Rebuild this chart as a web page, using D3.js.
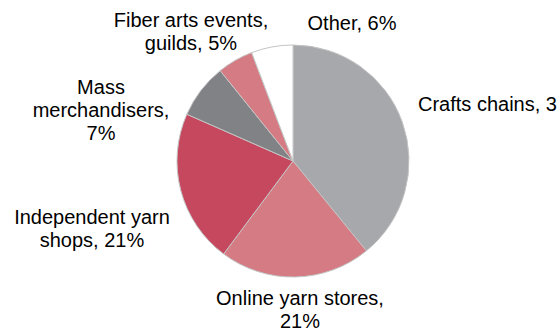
<!DOCTYPE html>
<html>
<head>
<meta charset="utf-8">
<script src="https://cdn.jsdelivr.net/npm/d3@7"></script>
<style>
body { margin: 0; background: #fff; }
text { font-family: "Liberation Sans", Arial, sans-serif; font-size: 20px; fill: #000; }
</style>
</head>
<body>
<script>
var width = 557;
var height = 331;

// data
var categories = ["Crafts chains", "Online yarn stores", "Independent yarn shops", "Mass merchandisers", "Fiber arts events, guilds", "Other"];
var shares = [39.1, 21.1, 21.4, 7.6, 5.0, 5.8];
var labelLines = [
    ["Crafts chains, 39%"],
    ["Online yarn stores,", "21%"],
    ["Independent yarn", "shops, 21%"],
    ["Mass", "merchandisers,", "7%"],
    ["Fiber arts events,", "guilds, 5%"],
    ["Other, 6%"]
];
var colors = ["#a7a8ac", "#d47b83", "#c6485f", "#808285", "#d47b83", "#ffffff"];

// layout
var cx = 293, cy = 161, radius = 116;
var labelPos = [[418, 111, "start"], [300, 305, "middle"], [92, 224, "middle"], [101, 94, "middle"], [191, 27, "middle"], [352, 30, "middle"]];
var lineHeight = 23;

var svg = d3.select("body").append("svg").attr("width", width + "px").attr("height", height + "px");

var pie = d3.pie().sort(null).value(function (d) { return d; });
var arc = d3.arc().innerRadius(0).outerRadius(radius);

var g = svg.append("g").attr("transform", "translate(" + cx + "," + cy + ")");

g.selectAll("path")
    .data(pie(shares))
    .enter().append("path")
    .attr("d", arc)
    .attr("fill", function (d, i) { return colors[i]; })
    .attr("stroke", "#c4c4c4")
    .attr("stroke-width", 1);

var labels = svg.append("g").selectAll("text")
    .data(categories)
    .enter().append("text")
    .attr("x", function (d, i) { return labelPos[i][0]; })
    .attr("y", function (d, i) { return labelPos[i][1]; })
    .attr("text-anchor", function (d, i) { return labelPos[i][2]; });

labels.each(function (d, i) {
    var t = d3.select(this);
    labelLines[i].forEach(function (line, j) {
        t.append("tspan")
            .attr("x", labelPos[i][0])
            .attr("dy", j === 0 ? 0 : lineHeight)
            .text(line);
    });
});
</script>
</body>
</html>
